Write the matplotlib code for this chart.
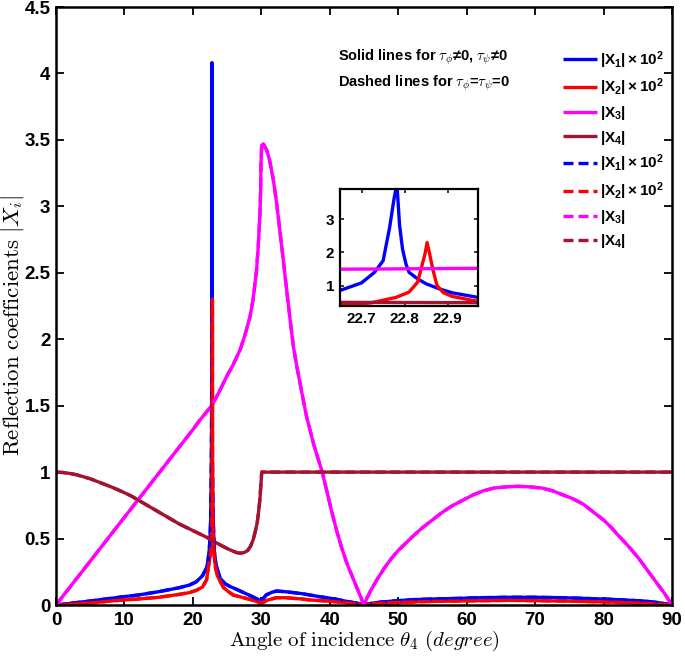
import matplotlib
matplotlib.use('Agg')
import matplotlib.pyplot as plt
from matplotlib.ticker import FuncFormatter

plt.rcParams['font.family'] = ['Liberation Sans', 'DejaVu Sans']
plt.rcParams['font.weight'] = 'bold'
plt.rcParams['mathtext.fontset'] = 'custom'
plt.rcParams['mathtext.rm'] = 'Liberation Sans:bold'
plt.rcParams['mathtext.it'] = 'Liberation Sans:bold'
plt.rcParams['mathtext.bf'] = 'Liberation Sans:bold'

# ---------------- data ----------------
theta_x1 = [0, 2, 5, 8, 10, 12, 15, 18, 19.5, 20.5, 21.4, 22.0, 22.2, 22.4, 22.5, 22.6,
            22.65, 22.7, 22.73, 22.75, 22.765, 22.775, 22.782, 22.788, 22.795, 22.803,
            22.81, 22.83, 22.85, 22.88, 22.91, 22.97, 23.1, 23.2, 23.5, 24.0, 24.7, 25.4,
            26.5, 27.4, 28.2, 28.8, 29.4, 30.0, 30.3, 30.7, 31.5, 32.2, 33.5, 34.7, 36,
            37.1, 38.5, 39.5, 40.8, 42, 43.5, 44.4, 45, 46, 47.5, 49.3, 52, 55, 59, 62,
            66.3, 70, 73.7, 77, 81, 84, 85.9, 88, 90]
x1_vals = [0, 0.012, 0.03, 0.05, 0.063, 0.075, 0.1, 0.13, 0.15, 0.175, 0.22, 0.28, 0.33,
           0.42, 0.5, 0.65, 0.85, 1.08, 1.4, 1.75, 2.75, 3.6, 4.08, 2.84, 2.1, 1.65,
           1.4, 1.2, 1.05, 0.9, 0.78, 0.64, 0.45, 0.36, 0.28, 0.2, 0.16, 0.14,
           0.115, 0.093, 0.075, 0.06, 0.045, 0.03, 0.05, 0.075, 0.095, 0.105, 0.1, 0.093, 0.085,
           0.075, 0.063, 0.055, 0.045, 0.032, 0.018, 0.01, 0.0, 0.012, 0.022, 0.03, 0.04, 0.045, 0.05, 0.055,
           0.058, 0.058, 0.055, 0.05, 0.043, 0.035, 0.03, 0.018, 0.0]

theta_x2 = [0, 2, 5, 8, 10, 12, 15, 18, 19.5, 20.5, 21.4, 22.0, 22.2, 22.4, 22.55, 22.65,
            22.72, 22.78, 22.81, 22.83, 22.84, 22.847, 22.852, 22.858, 22.865, 22.875,
            22.89, 22.91, 22.97, 23.1, 23.3, 23.6, 24.0, 24.5, 25.2, 25.9, 27.4, 28.8,
            29.5, 30.0, 30.3, 30.8, 31.5, 32.2, 33.5, 34.7, 36, 37.1, 39.5, 42, 44, 45,
            46, 49.3, 54, 59, 66.3, 73.7, 81, 86, 90]
x2_vals = [0, 0.005, 0.015, 0.03, 0.038, 0.045, 0.058, 0.08, 0.093, 0.11, 0.135, 0.19, 0.26,
           0.33, 0.38, 0.41, 0.47, 0.64, 0.8, 1.1, 1.6, 1.95, 2.3, 1.95, 1.5, 1.0,
           0.78, 0.67, 0.52, 0.38, 0.28, 0.22, 0.175, 0.13, 0.1, 0.075, 0.055, 0.035,
           0.022, 0.012, 0.02, 0.035, 0.045, 0.055, 0.055, 0.05, 0.045, 0.038, 0.03, 0.02, 0.008, 0.0,
           0.008, 0.018, 0.026, 0.03, 0.035, 0.03, 0.022, 0.012, 0.0]

theta_x3 = [0, 5, 10, 15, 20, 21, 22.75, 23.8, 24.94, 25.9, 26.9, 27.6, 28.35, 28.8, 29.3,
            29.55, 29.8, 29.9, 29.95, 30.05, 30.3, 30.8, 31.2, 31.75, 32.2, 32.7, 33.2,
            33.7, 34.2, 34.7, 35.2, 35.65, 36.1, 36.6, 37.1, 37.7, 38.3, 38.9, 39.6, 40.3,
            41.0, 41.8, 42.6, 43.4, 44.2, 45,
            45.5, 46, 47, 48, 49, 50, 51, 52, 53.5, 55, 56.5, 58, 59.5, 61, 62.5, 64, 66,
            67.5, 69, 71, 72.5, 74, 75.5, 77, 78.5, 80, 81, 82.4, 83.5, 85, 86, 87, 88,
            89, 89.5, 90]
x3_vals = [0, 0.33, 0.66, 0.99, 1.32, 1.39, 1.5, 1.6, 1.72, 1.81, 1.92, 2.03, 2.17, 2.3, 2.52,
           2.7, 2.95, 3.12, 3.32, 3.46, 3.47, 3.42, 3.35, 3.2, 3.04, 2.82, 2.6,
           2.37, 2.15, 1.94, 1.79, 1.67, 1.55, 1.42, 1.32, 1.2, 1.1, 1.0, 0.85, 0.7,
           0.56, 0.42, 0.3, 0.2, 0.1, 0.0,
           0.06, 0.11, 0.2, 0.28, 0.35, 0.41, 0.46, 0.51, 0.58, 0.64, 0.7, 0.75, 0.79, 0.83, 0.86, 0.88, 0.89,
           0.893, 0.89, 0.88, 0.86, 0.83, 0.8, 0.76, 0.7, 0.64, 0.59, 0.51, 0.45, 0.36, 0.29, 0.22, 0.15,
           0.08, 0.04, 0.0]

theta_x4 = [0, 1, 2, 3, 4, 5, 6, 7, 8, 9, 10, 11, 12, 13, 14, 15, 16, 17, 18, 19, 20, 21,
            22, 23, 24, 25, 26, 26.5, 27, 27.5, 28, 28.4, 28.8, 29.1, 29.4, 29.6, 29.8,
            29.9, 30.0, 30.05, 40, 60, 90]
x4_vals = [1.0, 0.997, 0.99, 0.98, 0.965, 0.95, 0.93, 0.91, 0.89, 0.868, 0.845, 0.82, 0.79,
           0.76, 0.73, 0.70, 0.67, 0.64, 0.61, 0.585, 0.56, 0.535, 0.51, 0.48, 0.452, 0.425,
           0.402, 0.393, 0.39, 0.395, 0.41, 0.44, 0.49, 0.55, 0.62, 0.7, 0.8, 0.88, 0.95,
           1.0, 1.0, 1.0, 1.0]

labels = [r'$|X_1|\times10^2$', r'$|X_2|\times10^2$', r'$|X_3|$', r'$|X_4|$']
colors = ['#0000FF', '#FF0000', '#FF00FF', '#A2142F']

x_ticks = [0, 10, 20, 30, 40, 50, 60, 70, 80, 90]
y_ticks = [0, 0.5, 1, 1.5, 2, 2.5, 3, 3.5, 4, 4.5]
inset_xticks = [22.7, 22.8, 22.9]
inset_yticks = [1, 2, 3]

series = [(theta_x1, x1_vals), (theta_x2, x2_vals), (theta_x3, x3_vals), (theta_x4, x4_vals)]

W, H = 685, 656
fig = plt.figure(figsize=(W / 100, H / 100), dpi=100)
ax = fig.add_axes([56 / W, 1 - 605 / H, 616 / W, 598 / H])

lw = 2.4
handles = []
for (xs, ys), c, lab in zip(series, colors, labels):
    h, = ax.plot(xs, ys, color=c, lw=lw, label=lab, solid_capstyle='butt')
    handles.append(h)
for (xs, ys), c, lab in zip(series, colors, labels):
    h, = ax.plot(xs, ys, color=c, lw=lw, ls=(0, (3, 1.5)), label=lab)
    handles.append(h)

fmt = FuncFormatter(lambda v, _: f'{v:g}')
ax.set_xlim(0, 90)
ax.set_ylim(0, 4.5)
ax.set_xticks(x_ticks)
ax.set_yticks(y_ticks)
ax.xaxis.set_major_formatter(fmt)
ax.yaxis.set_major_formatter(fmt)
ax.tick_params(direction='in', top=True, right=True, length=6, width=1.3,
               labelsize=13.5, pad=5)
ax.tick_params(axis='y', pad=4)
for t in ax.get_xticklabels() + ax.get_yticklabels():
    t.set_fontweight('bold')
for s in ax.spines.values():
    s.set_linewidth(1.8)

ax.set_xlabel(r'$\mathrm{Angle\ of\ incidence}\ \theta_4\ (degree)$', fontsize=15,
              math_fontfamily='cm')
ax.xaxis.set_label_coords(0.5, -0.04)
ax.set_ylabel(r'$\mathrm{Reflection\ coefficients}\ |X_i|$', fontsize=16.5,
              math_fontfamily='cm')
ax.yaxis.set_label_coords(-0.049, 0.468)

leg = fig.legend(handles=handles, loc='upper left',
                 bbox_to_anchor=(563 / W, 1 - 49 / H), bbox_transform=fig.transFigure,
                 frameon=False, fontsize=11, handlelength=2.2, handletextpad=0.2,
                 labelspacing=0.4, borderpad=0, borderaxespad=0)

fig.text(338 / W, 1 - 57 / H, r'Solid lines for $\tau_\phi$≠0, $\tau_\psi$≠0',
         fontsize=10.5, fontweight='bold', math_fontfamily='cm', va='center', ha='left')
fig.text(338 / W, 1 - 83 / H, r'Dashed lines for $\tau_\phi$=$\tau_\psi$=0',
         fontsize=10.5, fontweight='bold', math_fontfamily='cm', va='center', ha='left')

# ---------------- inset ----------------
axi = fig.add_axes([340 / W, 1 - 306 / H, 138 / W, 117 / H])
for (xs, ys), c in zip(series, colors):
    axi.plot(xs, ys, color=c, lw=lw)
axi.set_xlim(22.65, 22.97)
axi.set_ylim(0.38, 3.92)
axi.set_xticks(inset_xticks)
axi.set_yticks(inset_yticks)
axi.xaxis.set_major_formatter(fmt)
axi.yaxis.set_major_formatter(fmt)
axi.tick_params(direction='in', top=True, right=True, length=3, width=1.1,
                labelsize=11, pad=4)
for t in axi.get_xticklabels() + axi.get_yticklabels():
    t.set_fontweight('bold')
for s in axi.spines.values():
    s.set_linewidth(1.6)

fig.savefig('out.png', dpi=100)
